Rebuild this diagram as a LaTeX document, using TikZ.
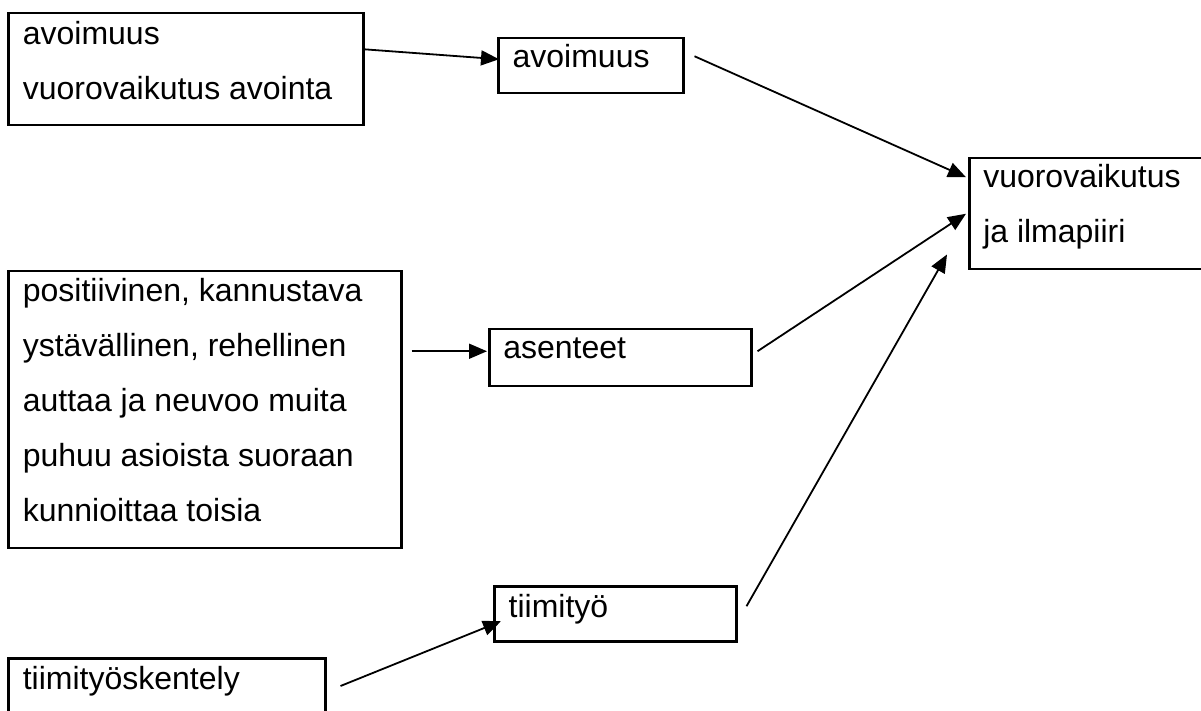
\documentclass[tikz,border=0pt]{standalone}
\usepackage{fontspec}
\setmainfont{Liberation Sans}
\usetikzlibrary{arrows.meta}

% boxed text: height, width, left inset, first baseline, lines
\newcommand{\boxcontent}[5]{%
  \parbox[c][#1][t]{#2}{\leftskip=#3\relax\rule{0pt}{#4}#5}}

\tikzset{
  box/.style={draw, line width=1.25pt, inner sep=0pt, anchor=north west,
    font=\fontsize{16}{27.5}\selectfont},
  link/.style={line width=0.9pt, -{Triangle[length=9pt,width=7.5pt]}}
}

\begin{document}
\begin{tikzpicture}[x=0.5pt,y=-0.5pt]
\useasboundingbox (0,0) rectangle (1201,711);
\begin{scope}
\clip (0,0) rectangle (1201,711);

% sources
\node[box] (A) at (7,12)
  {\boxcontent{56pt}{177.5pt}{7.3pt}{15.65pt}{avoimuus\\vuorovaikutus avointa}};
\node[box] (D) at (7,270)
  {\boxcontent{138.5pt}{196.5pt}{7.3pt}{15.35pt}{positiivinen, kannustava\\ystävällinen, rehellinen\\auttaa ja neuvoo muita\\puhuu asioista suoraan\\kunnioittaa toisia}};
\node[box] (G) at (7,657)
  {\boxcontent{30pt}{158.5pt}{7.3pt}{15.5pt}{tiimityöskentely}};

% middle column
\node[box] (B) at (497,37)
  {\boxcontent{27.5pt}{92.5pt}{7.2pt}{14.5pt}{avoimuus}};
\node[box] (E) at (488,328)
  {\boxcontent{28.5pt}{131pt}{7pt}{14.5pt}{asenteet}};
\node[box] (F) at (493,585)
  {\boxcontent{27.5pt}{121pt}{7.2pt}{15.5pt}{tiimityö}};

% target
\node[box] (C) at (968,157)
  {\boxcontent{55.5pt}{118pt}{7pt}{14.85pt}{vuorovaikutus\\ja ilmapiiri}};

% connectors
\draw[link] ([xshift=-0.5pt,yshift=10pt]A.east) -- ([xshift=1pt,yshift=3.25pt]B.west);
\draw[link] ([xshift=4.5pt,yshift=29.25pt]D.east) -- ([xshift=-0.5pt,yshift=3.25pt]E.west);
\draw[link] ([xshift=7pt,yshift=-14.5pt]G.north east) -- ([xshift=4pt,yshift=-3.75pt]F.west);
\draw[link] ([xshift=5pt,yshift=4.75pt]B.east) -- ([xshift=-1pt,yshift=18.25pt]C.west);
\draw[link] ([xshift=2.5pt,yshift=3.25pt]E.east) -- ([xshift=-1pt]C.west);
\draw[link] ([xshift=4.5pt,yshift=3.75pt]F.east) -- ([xshift=-10.5pt,yshift=8pt]C.south west);
\end{scope}
\end{tikzpicture}
\end{document}
